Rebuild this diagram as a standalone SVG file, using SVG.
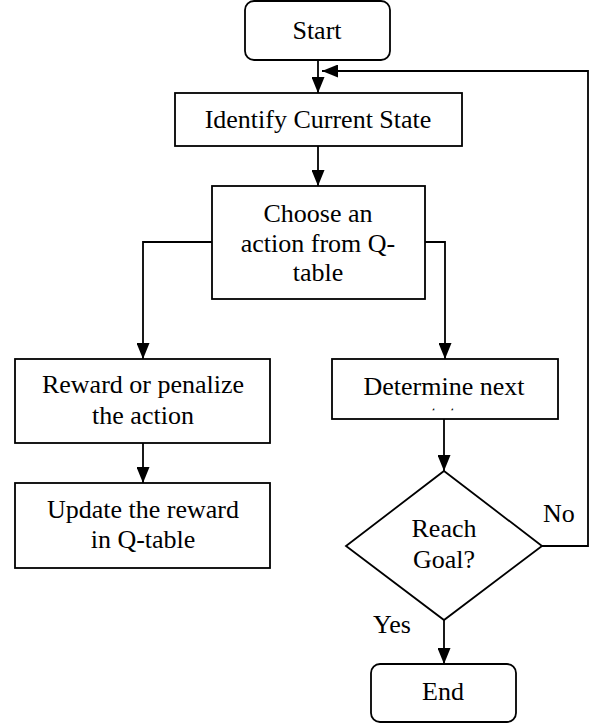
<svg xmlns="http://www.w3.org/2000/svg" width="590" height="725" viewBox="0 0 590 725">
<style>
.box{fill:#fff;stroke:#000;stroke-width:1.8}
.ln{fill:none;stroke:#000;stroke-width:1.8}
text{font-family:"Liberation Serif","Times New Roman",serif;font-size:26px;fill:#000;text-anchor:middle}
.lbl{text-anchor:start}
</style>
<defs>
<marker id="ah" viewBox="0 0 16 13" refX="16" refY="6.5" markerWidth="16" markerHeight="13" markerUnits="userSpaceOnUse" orient="auto">
<path d="M0,0 L16,6.5 L0,13 Z" fill="#000"/>
</marker>
<clipPath id="clipDet"><rect x="332" y="400" width="226" height="10.3"/></clipPath>
</defs>
<g id="connectors">
<path class="ln" d="M318,60 V93" marker-end="url(#ah)"/>
<path class="ln" d="M318,146 V186" marker-end="url(#ah)"/>
<path class="ln" d="M212,242 H143 V359" marker-end="url(#ah)"/>
<path class="ln" d="M425,242 H445 V359" marker-end="url(#ah)"/>
<path class="ln" d="M143,443 V483" marker-end="url(#ah)"/>
<path class="ln" d="M444,419 V471" marker-end="url(#ah)"/>
<path class="ln" d="M542,546 H588 V71 H322" marker-end="url(#ah)"/>
<path class="ln" d="M444,620 V664" marker-end="url(#ah)"/>
<text class="lbl" x="543" y="522">No</text>
<text class="lbl" x="373" y="633">Yes</text>
</g>
<g id="start">
<rect class="box" x="245" y="1" width="145" height="59" rx="9"/>
<text x="317" y="39">Start</text>
</g>
<g id="identify">
<rect class="box" x="175" y="93" width="287" height="53"/>
<text x="318" y="128">Identify Current State</text>
</g>
<g id="choose">
<rect class="box" x="212" y="186" width="213" height="113"/>
<text x="318" y="222">Choose an</text>
<text x="318" y="252">action from Q-</text>
<text x="318" y="281">table</text>
</g>
<g id="reward">
<rect class="box" x="15" y="359" width="255" height="84"/>
<text x="143" y="393">Reward or penalize</text>
<text x="143" y="424">the action</text>
</g>
<g id="update">
<rect class="box" x="15" y="483" width="255" height="85"/>
<text x="143" y="518">Update the reward</text>
<text x="143" y="548">in Q-table</text>
</g>
<g id="determine">
<rect class="box" x="332" y="359" width="226" height="60"/>
<text x="444" y="395">Determine next</text>
<text x="444" y="423" clip-path="url(#clipDet)">state</text>
</g>
<g id="goal">
<polygon class="box" points="444,471 542,546 444,620 346,546"/>
<text x="444" y="537">Reach</text>
<text x="444" y="568">Goal?</text>
</g>
<g id="end">
<rect class="box" x="371" y="664" width="145" height="58" rx="9"/>
<text x="443" y="700">End</text>
</g>
</svg>
